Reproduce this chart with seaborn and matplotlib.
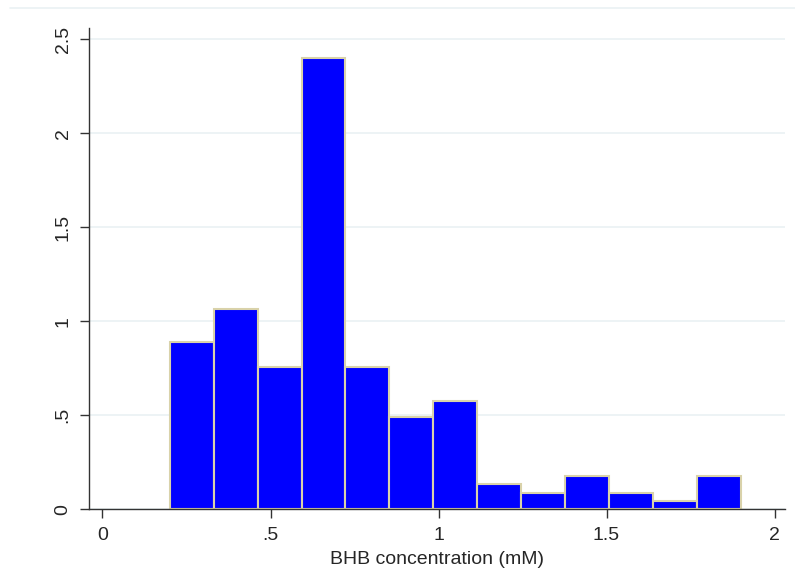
import numpy as np
import pandas as pd
import matplotlib.pyplot as plt
import seaborn as sns
from matplotlib.lines import Line2D

# histogram of BHB, 13 bins from 0.2 to 1.9 mM, n = 172
bin_start = 0.2
bin_end = 1.9
n_bins = 13
bin_counts = [20, 24, 17, 54, 17, 11, 13, 3, 2, 4, 2, 1, 4]

edges = np.linspace(bin_start, bin_end, n_bins + 1)
centers = (edges[:-1] + edges[1:]) / 2
df = pd.DataFrame({'bhb': centers, 'n': bin_counts})

x_ticks = [0, 0.5, 1, 1.5, 2]
x_labels = ['0', '.5', '1', '1.5', '2']
y_ticks = [0, 0.5, 1, 1.5, 2, 2.5]
y_labels = ['0', '.5', '1', '1.5', '2', '2.5']

sns.set_style('white')
plt.rcParams['font.family'] = ['Liberation Sans', 'DejaVu Sans']

fig = plt.figure(figsize=(7.95, 5.86), dpi=100)
ax = fig.add_axes([0.112, 0.131, 0.875, 0.821])

sns.histplot(data=df, x='bhb', weights='n', bins=list(edges), stat='density',
             color='#0000ff', alpha=1, edgecolor='#d9d2aa', linewidth=1.5, ax=ax)

ax.set_xlim(-0.04, 2.03)
ax.set_ylim(0, 2.56)
ax.set_xticks(x_ticks)
ax.set_xticklabels(x_labels, fontsize=14)
ax.set_yticks(y_ticks)
ax.set_yticklabels(y_labels, fontsize=14, rotation=90, va='center')
ax.set_xlabel('BHB concentration (mM)', fontsize=14, labelpad=5)
ax.set_ylabel('')

ax.yaxis.grid(True, color='#eaf1f3', linewidth=1.2)
ax.set_axisbelow(True)
ax.tick_params(axis='both', direction='out', length=6.5, width=1, color='#333333',
               bottom=True, left=True, pad=6)
for side in ['top', 'right']:
    ax.spines[side].set_visible(False)
for side in ['left', 'bottom']:
    ax.spines[side].set_color('#333333')
    ax.spines[side].set_linewidth(1)

fig.add_artist(Line2D([0.013, 1.0], [0.986, 0.986], transform=fig.transFigure,
                      color='#eaf1f3', linewidth=1.2))

plt.savefig('out.png', dpi=100)
